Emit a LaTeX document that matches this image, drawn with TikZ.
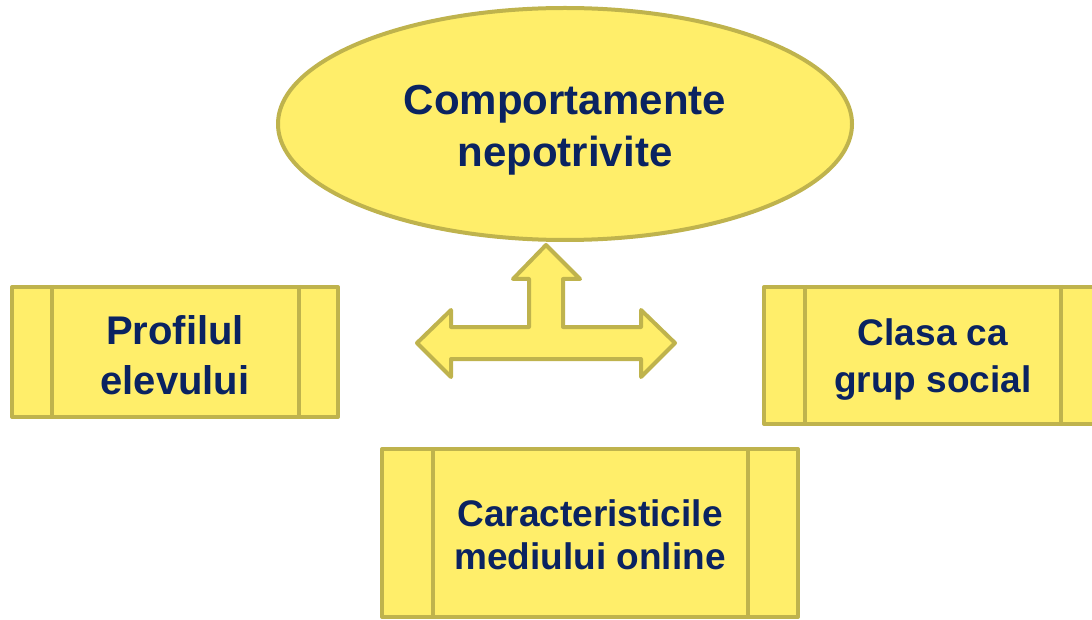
\documentclass[tikz,border=0pt]{standalone}
\usepackage{fontspec}
\setmainfont{Liberation Sans}
\usetikzlibrary{shapes.geometric}
\definecolor{fillY}{HTML}{FFEE6A}
\definecolor{lineY}{HTML}{BFB34D}
\definecolor{txt}{HTML}{0A2361}
\tikzset{
  base/.style={fill=fillY, draw=lineY, line width=4pt, line join=round},
  boxnode/.style={base, rectangle, inner sep=0pt},
  ovalnode/.style={base, ellipse, inner sep=0pt},
  lbl/.style={text=txt, align=center, font=\bfseries},
  divider/.style={draw=lineY, line width=4pt}
}
\begin{document}
\begin{tikzpicture}[x=1pt,y=-1pt]
\useasboundingbox (0,0) rectangle (1092,620);
\clip (0,0) rectangle (1092,620);
% ellipse
\node[ovalnode, minimum width=574pt, minimum height=232pt] (top) at (565,124) {};
\node[lbl, font=\bfseries\fontsize{42}{52}\selectfont] (toptxt) at (565,130) {Comportamente\\nepotrivite};
% left box
\node[boxnode, minimum width=326pt, minimum height=130pt] (left) at (175,352) {};
\draw[divider] ([xshift=42pt]left.north west) -- ([xshift=42pt]left.south west);
\draw[divider] ([xshift=-41pt]left.north east) -- ([xshift=-41pt]left.south east);
\node[lbl, font=\bfseries\fontsize{40}{50}\selectfont] (lefttxt) at (175,355) {Profilul\\elevului};
% right box
\node[boxnode, minimum width=338pt, minimum height=137pt] (right) at (933,355.5) {};
\draw[divider] ([xshift=43pt]right.north west) -- ([xshift=43pt]right.south west);
\draw[divider] ([xshift=-43pt]right.north east) -- ([xshift=-43pt]right.south east);
\node[lbl, font=\bfseries\fontsize{37}{47}\selectfont] (righttxt) at (933,360) {Clasa ca\\grup social};
% bottom box
\node[boxnode, minimum width=416pt, minimum height=168pt] (bottom) at (590,533) {};
\draw[divider] ([xshift=53pt]bottom.north west) -- ([xshift=53pt]bottom.south west);
\draw[divider] ([xshift=-52pt]bottom.north east) -- ([xshift=-52pt]bottom.south east);
\node[lbl, font=\bfseries\fontsize{37}{43}\selectfont] (bottomtxt) at (590,535) {Caracteristicile\\mediului online};
% three-way arrow
\draw[base]
  (417,343) -- (451,310) -- (451,327) -- (529,327) -- (529,279) -- (513,279)
  -- (546,245) -- (580,279) -- (563,279) -- (563,327) -- (641,327) -- (641,310)
  -- (675,343) -- (641,377) -- (641,359) -- (451,359) -- (451,377) -- cycle;
\end{tikzpicture}
\end{document}
